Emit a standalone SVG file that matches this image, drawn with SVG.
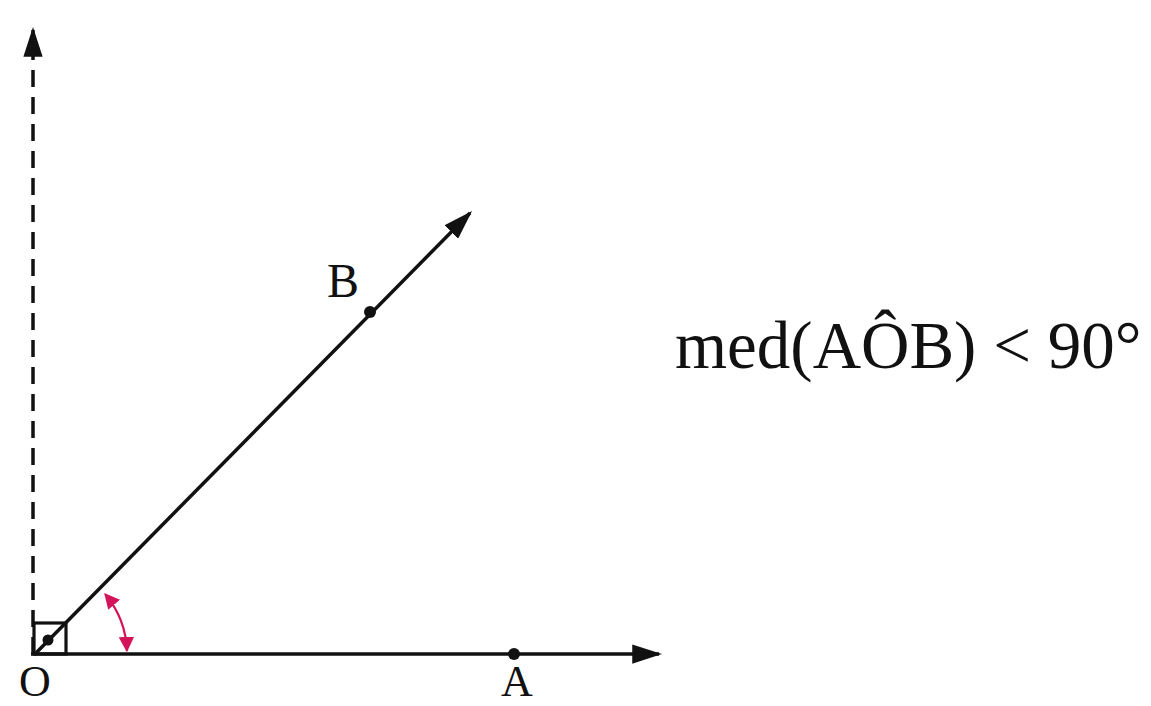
<svg xmlns="http://www.w3.org/2000/svg" width="1151" height="706" viewBox="0 0 1151 706">
  <style>
    .ray { stroke: #111; stroke-width: 3.5; fill: none; }
    .lbl { font-family: "Liberation Serif", "Times New Roman", serif; fill: #111; }
    .pt { fill: #111; }
  </style>
  <defs>
    <marker id="ah" viewBox="0 0 10 10" refX="9" refY="5" markerWidth="8.5" markerHeight="5.5" markerUnits="strokeWidth" orient="auto" preserveAspectRatio="none">
      <path d="M0,0 L10,5 L0,10 Z" fill="#111"/>
    </marker>
    <marker id="rh" viewBox="0 0 10 10" refX="9" refY="5" markerWidth="7" markerHeight="7" markerUnits="strokeWidth" orient="auto-start-reverse" preserveAspectRatio="none">
      <path d="M0,0 L10,5 L0,10 Z" fill="#d4145a"/>
    </marker>
  </defs>
  <rect width="1151" height="706" fill="#ffffff"/>
  <g id="connectors">
    <line class="ray" x1="33" y1="654" x2="33" y2="30" stroke-dasharray="17 10" marker-end="url(#ah)"/>
    <line class="ray" x1="31" y1="654" x2="659" y2="654" marker-end="url(#ah)"/>
    <line class="ray" x1="34" y1="655" x2="470" y2="213" marker-end="url(#ah)"/>
    <path d="M105.2,594.2 A93,93 0 0 1 126.9,650.8" fill="none" stroke="#d4145a" stroke-width="2.2" marker-start="url(#rh)" marker-end="url(#rh)"/>
  </g>
  <g id="right-angle">
    <rect x="34" y="623" width="32" height="31" fill="none" stroke="#111" stroke-width="3.2"/>
    <circle cx="48" cy="640" r="5.5" class="pt"/>
  </g>
  <g id="node-O">
    <text class="lbl" x="35" y="696" font-size="44" text-anchor="middle">O</text>
  </g>
  <g id="node-A">
    <circle cx="514" cy="654" r="6" class="pt"/>
    <text class="lbl" x="517" y="696" font-size="44" text-anchor="middle">A</text>
  </g>
  <g id="node-B">
    <circle cx="370" cy="312" r="6" class="pt"/>
    <text class="lbl" x="343" y="297" font-size="48" text-anchor="middle">B</text>
  </g>
  <g id="formula">
    <text class="lbl" x="675" y="368" font-size="67">med(AÔB) &lt; 90°</text>
  </g>
</svg>
